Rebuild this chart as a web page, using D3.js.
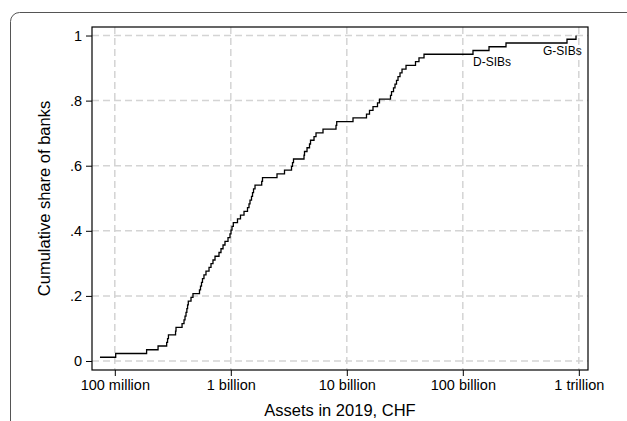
<!DOCTYPE html>
<html>
<head>
<meta charset="utf-8">
<script src="https://cdn.jsdelivr.net/npm/d3@7"></script>
<style>
  body { margin: 0; background: #fff; }
  text { font-family: "Liberation Sans", Arial, Helvetica, sans-serif; }
</style>
</head>
<body>
<div id="container"></div>
<script>
/* CONSTANTS AND GLOBALS */
const width = 627;
const height = 421;

/* DATA */
// total assets of each bank in 2019, billions of CHF (sorted)
const assets = [
  0.0745, 0.1018, 0.188, 0.236, 0.280, 0.285, 0.290, 0.334, 0.337, 0.380,
  0.395, 0.403, 0.411, 0.418, 0.424, 0.430, 0.454, 0.472, 0.537, 0.548,
  0.559, 0.570, 0.587, 0.611, 0.649, 0.675, 0.702, 0.731, 0.791, 0.823,
  0.857, 0.891, 0.946, 0.984, 1.004, 1.024, 1.051, 1.142, 1.212, 1.300,
  1.393, 1.435, 1.464, 1.508, 1.539, 1.570, 1.617, 1.847, 1.876, 2.502,
  2.904, 3.337, 3.403, 3.471, 4.276, 4.318, 4.54, 4.77, 4.866, 5.216,
  5.427, 6.235, 8.07, 8.185, 11.31, 14.78, 15.69, 16.82, 18.39, 19.13,
  23.8, 24.29, 25.27, 26.03, 26.82, 27.63, 28.75, 29.92, 32.39, 39.1,
  41.9, 46.3, 122.4, 168.2, 235.7, 791, 946
];
const xTicks = [0.1, 1, 10, 100, 1000];
const xTickLabels = ["100 million", "1 billion", "10 billion", "100 billion", "1 trillion"];
const yTicks = [0, 0.2, 0.4, 0.6, 0.8, 1];
const yTickLabels = ["0", ".2", ".4", ".6", ".8", "1"];
const labels = [
  { text: "D-SIBs", x: 122.4, y: 0.905 },
  { text: "G-SIBs", x: 491, y: 0.94 }
];

const N = assets.length;
const ecdf = assets.map((a, i) => ({ a: a, f: (i + 1) / N }));

/* SVG */
const svg = d3.select("#container")
  .append("svg")
  .attr("width", width)
  .attr("height", height);

svg.append("rect")
  .attr("width", width).attr("height", height)
  .attr("fill", "#fff");

// outer graph border (cut off at right and bottom)
svg.append("rect")
  .attr("x", 10.5).attr("y", 12.5)
  .attr("width", 700).attr("height", 500)
  .attr("rx", 9)
  .attr("fill", "none")
  .attr("stroke", "#555")
  .attr("stroke-width", 1);

/* SCALES */
const plot = { left: 92, right: 588, top: 27, bottom: 370 };

const xScale = d3.scaleLog()
  .domain([0.0636, 1200])
  .range([plot.left, plot.right]);

const yScale = d3.scaleLinear()
  .domain([-0.0277, 1.0262])
  .range([plot.bottom, plot.top]);

/* GRID */
const grid = svg.append("g")
  .attr("stroke", "#d4d4d4")
  .attr("stroke-width", 1.5)
  .attr("stroke-dasharray", "7,4");

grid.selectAll("line.h")
  .data(yTicks)
  .join("line")
  .attr("class", "h")
  .attr("x1", plot.left).attr("x2", plot.right)
  .attr("y1", d => yScale(d)).attr("y2", d => yScale(d));

grid.selectAll("line.v")
  .data(xTicks)
  .join("line")
  .attr("class", "v")
  .attr("y1", plot.top).attr("y2", plot.bottom)
  .attr("x1", d => xScale(d)).attr("x2", d => xScale(d));

/* LINE */
const line = d3.line()
  .x(d => xScale(d.a))
  .y(d => yScale(d.f))
  .curve(d3.curveStepAfter);

svg.append("path")
  .datum(ecdf)
  .attr("d", line)
  .attr("fill", "none")
  .attr("stroke", "#000")
  .attr("stroke-width", 1.3);

/* LABELS */
svg.selectAll("text.lab")
  .data(labels)
  .join("text")
  .attr("class", "lab")
  .attr("x", d => xScale(d.x))
  .attr("y", d => yScale(d.y))
  .attr("font-size", 12)
  .text(d => d.text);

/* FRAME */
svg.append("rect")
  .attr("x", plot.left).attr("y", plot.top)
  .attr("width", plot.right - plot.left)
  .attr("height", plot.bottom - plot.top)
  .attr("fill", "none")
  .attr("stroke", "#000")
  .attr("stroke-width", 1.2);

/* AXES */
const xAxis = d3.axisBottom(xScale)
  .tickValues(xTicks)
  .tickFormat((d, i) => xTickLabels[i])
  .tickSize(6)
  .tickPadding(4);

const yAxis = d3.axisLeft(yScale)
  .tickValues(yTicks)
  .tickFormat((d, i) => yTickLabels[i])
  .tickSize(6)
  .tickPadding(4);

const gx = svg.append("g")
  .attr("transform", `translate(0, ${plot.bottom})`)
  .call(xAxis);
gx.select(".domain").remove();
gx.selectAll("text")
  .attr("font-family", "Liberation Sans, Arial, sans-serif")
  .attr("font-size", 14.5)
  .attr("fill", "#000");
gx.selectAll("line").attr("stroke", "#000");

const gy = svg.append("g")
  .attr("transform", `translate(${plot.left}, 0)`)
  .call(yAxis);
gy.select(".domain").remove();
gy.selectAll("text")
  .attr("font-family", "Liberation Sans, Arial, sans-serif")
  .attr("font-size", 14.5)
  .attr("fill", "#000");
gy.selectAll("line").attr("stroke", "#000");

/* TITLES */
svg.append("text")
  .attr("x", (plot.left + plot.right) / 2)
  .attr("y", 416)
  .attr("text-anchor", "middle")
  .attr("font-size", 16.5)
  .text("Assets in 2019, CHF");

svg.append("text")
  .attr("transform", `translate(50, ${(plot.top + plot.bottom) / 2}) rotate(-90)`)
  .attr("text-anchor", "middle")
  .attr("font-size", 16.5)
  .text("Cumulative share of banks");
</script>
</body>
</html>
